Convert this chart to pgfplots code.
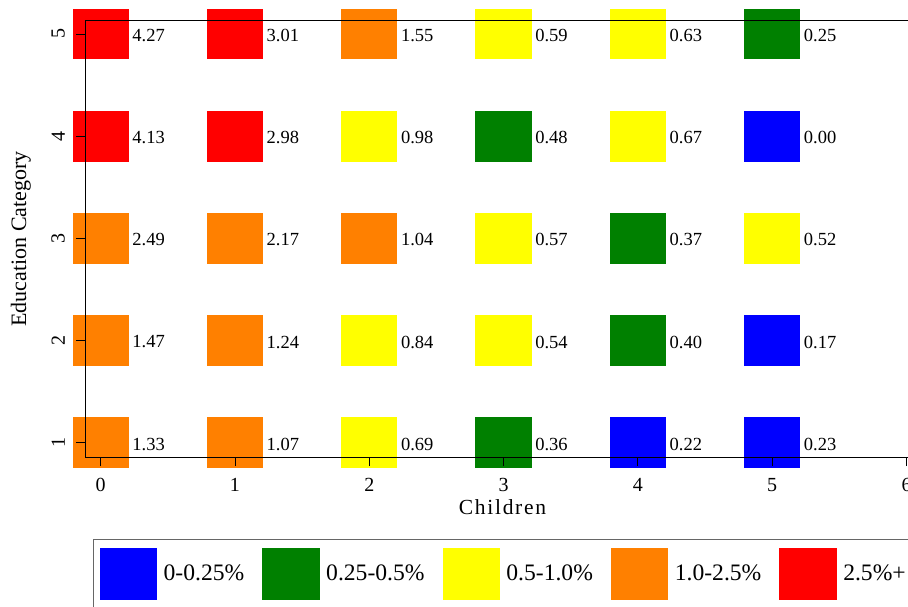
\documentclass[border=0pt]{standalone}
\usepackage{pgfplots}
\pgfplotsset{compat=1.18}
\usepackage{fontspec}
\setmainfont{Liberation Serif}
\newfontfamily\spacedfont[LetterSpace=8.0]{Liberation Serif}
\definecolor{cB}{HTML}{0000FF}
\definecolor{cG}{HTML}{008000}
\definecolor{cY}{HTML}{FFFF00}
\definecolor{cO}{HTML}{FF8000}
\definecolor{cR}{HTML}{FF0000}
\pgfdeclareplotmark{rect}{\pgfpathrectangle{\pgfpoint{-28.15pt}{-25.35pt}}{\pgfpoint{56.3pt}{50.7pt}}\pgfusepathqfill}
\begin{document}
\begin{tikzpicture}[x=1pt,y=1pt]
\begin{axis}[
  set layers=axis on top,
  at={(85.5pt,149pt)}, anchor=south west,
  scale only axis, width=829.5pt, height=436.3pt,
  xmin=-0.113, xmax=6.063, ymin=0.860, ymax=5.130,
  clip=false,
  axis line style={black, line width=0.9pt},
  xtick={0,1,2,3,4,5,6}, ytick={1,2,3,4,5},
  tick pos=left, tick align=outside, major tick length=9pt,
  tick style={black, line width=0.9pt},
  /pgf/number format/assume math mode=true,
  ticklabel style={font=\fontsize{20}{24}\selectfont},
  xticklabel style={anchor=north, inner sep=0pt, yshift=-12pt},
  yticklabel style={rotate=90, anchor=south, inner sep=0pt, yshift=11.5pt},
  xlabel={\spacedfont Children}, ylabel={Education Category},
  xlabel style={at={(axis description cs:0.5027,-0.1329)}, anchor=base, font=\fontsize{21.5}{26}\selectfont, inner sep=0pt},
  ylabel style={at={(axis description cs:-0.0717,0.5)}, anchor=base, rotate=0, font=\fontsize{22}{26}\selectfont, inner sep=0pt},
  only marks, mark=rect,
  point meta=explicit symbolic,
  nodes near coords,
  every node near coord/.append style={anchor=west, inner sep=0pt, xshift=31.5pt, yshift=-1.5pt, text=black, font=\fontsize{18.5}{22}\selectfont},
  legend columns=5,
  legend style={at={(axis description cs:0.0094,-0.188)}, anchor=north west,
    draw=black!60, line width=1pt, inner xsep=6pt, inner ysep=8pt,
    font=\fontsize{23.6}{28}\selectfont,
    /tikz/every odd column/.append style={column sep=4.5pt},
    /tikz/every even column/.append style={column sep=16pt}},
]
\addplot[color=cB, legend image code/.code={\fill[cB] (0pt,-25.8pt) rectangle (56.4pt,25.8pt);}]
  coordinates {(5,4) [0.00] (5,2) [0.17] (4,1) [0.22] (5,1) [0.23]};
\addlegendentry{0-0.25\%}
\addplot[color=cG, legend image code/.code={\fill[cG] (0pt,-25.8pt) rectangle (56.4pt,25.8pt);}]
  coordinates {(5,5) [0.25] (3,4) [0.48] (4,3) [0.37] (4,2) [0.40] (3,1) [0.36]};
\addlegendentry{0.25-0.5\%}
\addplot[color=cY, legend image code/.code={\fill[cY] (0pt,-25.8pt) rectangle (56.4pt,25.8pt);}]
  coordinates {(3,5) [0.59] (4,5) [0.63] (2,4) [0.98] (4,4) [0.67] (3,3) [0.57] (5,3) [0.52] (2,2) [0.84] (3,2) [0.54] (2,1) [0.69]};
\addlegendentry{0.5-1.0\%}
\addplot[color=cO, legend image code/.code={\fill[cO] (0pt,-25.8pt) rectangle (56.4pt,25.8pt);}]
  coordinates {(2,5) [1.55] (0,3) [2.49] (1,3) [2.17] (2,3) [1.04] (0,2) [1.47] (1,2) [1.24] (0,1) [1.33] (1,1) [1.07]};
\addlegendentry{1.0-2.5\%}
\addplot[color=cR, legend image code/.code={\fill[cR] (0pt,-25.8pt) rectangle (56.4pt,25.8pt);}]
  coordinates {(0,5) [4.27] (1,5) [3.01] (0,4) [4.13] (1,4) [2.98]};
\addlegendentry{2.5\%+}
\end{axis}
\pgfresetboundingbox
\useasboundingbox (0,0) rectangle (908,606);
\end{tikzpicture}
\end{document}
